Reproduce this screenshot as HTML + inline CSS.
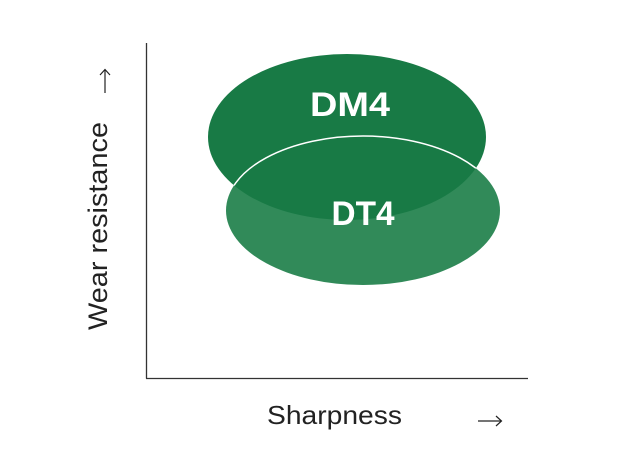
<!DOCTYPE html>
<html><head><style>html,body{margin:0;padding:0;background:#fff}</style></head>
<body>
<svg width="640" height="466" viewBox="0 0 640 466" xmlns="http://www.w3.org/2000/svg">
<defs><clipPath id="c"><ellipse cx="347" cy="137" rx="139" ry="83"/></clipPath></defs>
<line x1="146.5" y1="43" x2="146.5" y2="378.5" stroke="#333" stroke-width="1.3"/>
<line x1="146" y1="378.5" x2="528" y2="378.5" stroke="#333" stroke-width="1.3"/>
<ellipse cx="363" cy="210.5" rx="137" ry="74.5" fill="#318a59"/>
<ellipse cx="347" cy="137" rx="139" ry="83" fill="#187a45"/>
<ellipse cx="363" cy="210.5" rx="137" ry="74.5" fill="none" stroke="#fff" stroke-width="1.5" clip-path="url(#c)"/>
<text x="350" y="116" text-anchor="middle" font-family="Liberation Sans, sans-serif" font-weight="bold" font-size="34" fill="#fff" textLength="80" lengthAdjust="spacingAndGlyphs">DM4</text>
<text x="363" y="225" text-anchor="middle" font-family="Liberation Sans, sans-serif" font-weight="bold" font-size="34" fill="#fff" textLength="63" lengthAdjust="spacingAndGlyphs">DT4</text>
<text x="267" y="424" font-family="Liberation Sans, sans-serif" font-size="26" fill="#222" textLength="135" lengthAdjust="spacingAndGlyphs">Sharpness</text>
<line x1="478" y1="421" x2="501" y2="421" stroke="#222" stroke-width="1.2"/>
<path d="M496 416 L501.5 421 L496 426" fill="none" stroke="#222" stroke-width="1.2"/>
<text transform="translate(107,330) rotate(-90)" font-family="Liberation Sans, sans-serif" font-size="27" fill="#222" textLength="208" lengthAdjust="spacingAndGlyphs">Wear resistance</text>
<line x1="105" y1="93" x2="105" y2="70" stroke="#222" stroke-width="1.2"/>
<path d="M100 75 L105 69.5 L110 75" fill="none" stroke="#222" stroke-width="1.2"/>
</svg>
</body></html>
